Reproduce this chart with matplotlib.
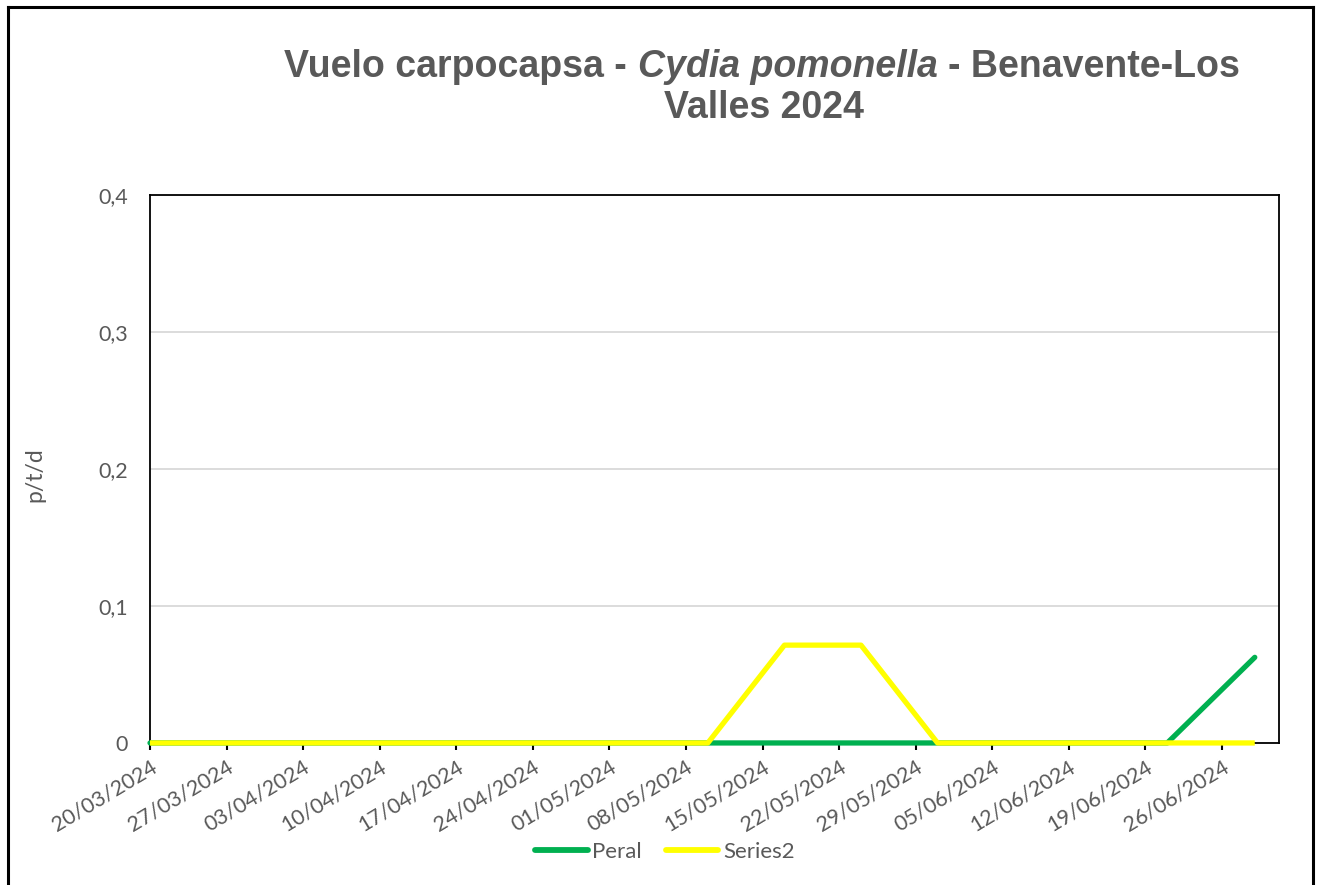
import matplotlib
matplotlib.use("Agg")
import matplotlib.pyplot as plt
import matplotlib.dates as mdates
from matplotlib.lines import Line2D
from matplotlib.ticker import FuncFormatter, MultipleLocator
import pandas as pd

# datos
fechas = ["2024-03-20", "2024-03-29", "2024-04-05", "2024-04-12", "2024-04-19",
          "2024-04-26", "2024-05-03", "2024-05-10", "2024-05-17", "2024-05-24",
          "2024-05-31", "2024-06-07", "2024-06-14", "2024-06-21", "2024-06-29"]
peral = [0, 0, 0, 0, 0, 0, 0, 0, 0, 0, 0, 0, 0, 0, 0.0625]
series2 = [0, 0, 0, 0, 0, 0, 0, 0, 0.0714, 0.0714, 0, 0, 0, 0, 0]
ticks_x = pd.date_range("2024-03-20", "2024-06-26", freq="7D")

gris = "#595959"
verde = "#00B050"
amarillo = "#FFFF00"

fig = plt.figure(figsize=(13.17, 8.85), dpi=100)
ax = fig.add_axes([0.1139, 0.1605, 0.8572, 0.6192])

x = pd.to_datetime(fechas)
ax.plot(x, peral, color=verde, lw=3.8, solid_capstyle="round", label="Peral",
        clip_on=False, zorder=3)
ax.plot(x, series2, color=amarillo, lw=3.8, solid_capstyle="butt", label="Series2",
        clip_on=False, zorder=4)

ax.set_ylim(0, 0.4)
ax.set_xlim(pd.Timestamp("2024-03-20"), pd.Timestamp("2024-07-01 05:00"))
ax.yaxis.set_major_locator(MultipleLocator(0.1))
ax.yaxis.set_major_formatter(FuncFormatter(lambda v, p: "0" if abs(v) < 1e-9 else f"{v:.1f}".replace(".", ",")))
ax.set_xticks(ticks_x)
ax.xaxis.set_major_formatter(mdates.DateFormatter("%d/%m/%Y"))
ax.grid(axis="y", color="#d9d9d9", lw=1.3)
ax.set_axisbelow(True)

for s in ax.spines.values():
    s.set_color("black")
    s.set_linewidth(1.3)
    s.set_zorder(2)

ax.tick_params(axis="y", length=0, pad=16, labelsize=15.5, labelcolor=gris)
ax.tick_params(axis="x", length=5, width=1.5, direction="out", color="black",
               pad=5, labelsize=15.5, labelcolor=gris)
for lab in ax.get_xticklabels():
    lab.set_rotation(31)
    lab.set_ha("right")
    lab.set_va("top")
    lab.set_rotation_mode("anchor")
for lab in ax.get_xticklabels() + ax.get_yticklabels():
    lab.set_fontfamily("Lato")

fig.text(35 / 1317, 1 - 475 / 885, "p/t/d", rotation=90, ha="center", va="center",
         fontsize=16.5, color=gris, family="Lato")

leg = fig.legend(loc="center", bbox_to_anchor=(665 / 1317, 1 - 852 / 885), ncol=2,
                 frameon=False, handlelength=2.35, handletextpad=0.2, columnspacing=1.1,
                 prop={"family": "Lato", "size": 16})
for t in leg.get_texts():
    t.set_color(gris)
for h in leg.legend_handles:
    h.set_linewidth(4.2)
    h.set_solid_capstyle("round")

# titulo con parte en cursiva
tsize = 27
partes = [("Vuelo carpocapsa -", "normal"), ("Cydia pomonella", "italic"), ("- Benavente-Los", "normal")]
fig.canvas.draw()
r = fig.canvas.get_renderer()
objs = [fig.text(0, 0, s, fontsize=tsize, fontweight="bold", style=st, color=gris,
                 family="Liberation Sans", va="center", ha="left") for s, st in partes]
aa = fig.text(0, 0, "a a", fontsize=tsize, fontweight="bold", family="Liberation Sans")
a2 = fig.text(0, 0, "aa", fontsize=tsize, fontweight="bold", family="Liberation Sans")
esp = aa.get_window_extent(r).width - a2.get_window_extent(r).width
aa.remove()
a2.remove()
anchos = [o.get_window_extent(r).width for o in objs]
total = sum(anchos) + esp * (len(objs) - 1)
x0 = 762 - total / 2
for o, w in zip(objs, anchos):
    o.set_position((x0 / 1317, 1 - 67 / 885))
    x0 += w + esp
fig.text(764 / 1317, 1 - 108 / 885, "Valles 2024", fontsize=tsize, fontweight="bold",
         color=gris, family="Liberation Sans", ha="center", va="center")

# marco exterior (sin borde inferior)
for xs, ys in [((8, 8), (885, 7)), ((8, 1313), (7, 7)), ((1313, 1313), (7, 885))]:
    fig.add_artist(Line2D([v / 1317 for v in xs], [1 - v / 885 for v in ys],
                          transform=fig.transFigure, color="black", lw=2.2))

fig.savefig("out.png", dpi=100)
